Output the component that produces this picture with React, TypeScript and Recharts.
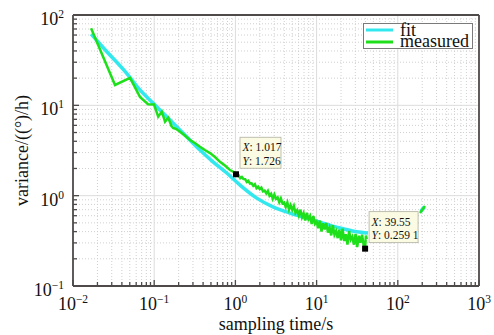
import React from 'react';
import {
  ComposedChart,
  Line,
  XAxis,
  YAxis,
  ReferenceLine,
  ReferenceDot,
  Legend,
} from 'recharts';

// ---------- data ----------
const fitX = [0.0167, 0.025, 0.0458, 0.0668, 0.0966, 0.1565, 0.251, 0.366, 0.53, 0.782, 1.14, 1.83, 2.9, 4.7, 7.55, 12.0, 19.4, 31.2, 43];
const fitY = [61.6, 41.0, 22.6, 14.8, 10.6, 6.88, 4.49, 3.2, 2.37, 1.78, 1.31, 0.94, 0.753, 0.642, 0.565, 0.497, 0.438, 0.398, 0.385];

const measuredX = [
  0.0167, 0.0329, 0.0504, 0.0668, 0.0839, 0.0995, 0.112, 0.124, 0.136, 0.149, 0.163, 0.172, 0.185, 0.208, 0.24, 0.276, 0.32, 0.366, 0.42, 0.487, 0.56, 0.646, 0.75, 0.858,
  1.0, 1.047, 1.096, 1.148, 1.202, 1.259, 1.318, 1.38, 1.445, 1.514, 1.585, 1.66, 1.738, 1.82, 1.905, 1.995,
  2.089, 2.188, 2.291, 2.399, 2.512, 2.63, 2.754, 2.884, 3.02, 3.162, 3.311, 3.467, 3.631, 3.802, 3.981,
  4.169, 4.365, 4.571, 4.786, 5.012, 5.248, 5.495, 5.754, 6.026, 6.31, 6.607, 6.918, 7.244, 7.586, 7.943,
  8.318, 8.71, 9.12, 9.55, 10.0, 10.47, 10.96, 11.48, 12.02, 12.59, 13.18, 13.8, 14.45, 15.14, 15.85,
  16.6, 17.38, 18.2, 19.05, 19.95, 20.89, 21.88, 22.91, 23.99, 25.12, 26.3, 27.54, 28.84, 30.2, 31.62,
  33.11, 34.67, 36.31, 38.02, 39.55, 40.5, 41.5,
];
const measuredY = [
  71.2, 16.8, 20.1, 12.4, 10.3, 10.2, 7.5, 8.5, 6.6, 7.3, 5.9, 5.6, 5.5, 5.1, 4.6, 4.13, 3.8, 3.48, 3.2, 2.96, 2.68, 2.37, 2.14, 1.92,
  1.79, 1.67, 1.68, 1.565, 1.61, 1.53, 1.525, 1.42, 1.46, 1.36, 1.37, 1.285, 1.34, 1.21, 1.255, 1.18,
  1.225, 1.115, 1.135, 1.06, 1.13, 1.0, 1.05, 0.925, 1.03, 0.92, 0.955, 0.845, 0.93, 0.82, 0.84,
  0.75, 0.84, 0.7, 0.785, 0.695, 0.77, 0.645, 0.69, 0.605, 0.7, 0.577, 0.64, 0.53, 0.648, 0.55,
  0.595, 0.486, 0.594, 0.489, 0.517, 0.436, 0.53, 0.4, 0.495, 0.423, 0.5, 0.39, 0.444, 0.363, 0.47,
  0.37, 0.407, 0.339, 0.42, 0.32, 0.43, 0.315, 0.374, 0.287, 0.406, 0.326, 0.352, 0.287, 0.377, 0.27,
  0.36, 0.302, 0.37, 0.28, 0.2591, 0.362, 0.33,
];

const fitTailX = [192, 212];
const fitTailY = [0.67, 0.75];
const measuredTailX = [187.6, 216];
const measuredTailY = [0.642, 0.767];

const xMajorTicks = [0.01, 0.1, 1, 10, 100, 1000];
const xMinorTicks = [
  0.02, 0.03, 0.04, 0.05, 0.06, 0.07, 0.08, 0.09,
  0.2, 0.3, 0.4, 0.5, 0.6, 0.7, 0.8, 0.9,
  2, 3, 4, 5, 6, 7, 8, 9,
  20, 30, 40, 50, 60, 70, 80, 90,
  200, 300, 400, 500, 600, 700, 800, 900,
];
const yMajorTicks = [0.1, 1, 10, 100];
const yMinorTicks = [
  0.2, 0.3, 0.4, 0.5, 0.6, 0.7, 0.8, 0.9,
  2, 3, 4, 5, 6, 7, 8, 9,
  20, 30, 40, 50, 60, 70, 80, 90,
];

const tipX = [1.017, 39.55];
const tipY = [1.726, 0.2591];
const tipYLabels = ['1.726', '0.259 1'];
const tipXLabels = ['1.017', '39.55'];

// ---------- styles ----------
const FONT = '"Liberation Serif", "Times New Roman", serif';
const AXIS = '#4f4a4a';
const CYAN = '#30e8ee';
const GREEN = '#1ee01a';

const fitData = fitX.map((x, i) => ({ x, y: fitY[i] }));
const measuredData = measuredX.map((x, i) => ({ x, y: measuredY[i] }));
const fitTail = fitTailX.map((x, i) => ({ x, y: fitTailY[i] }));
const measuredTail = measuredTailX.map((x, i) => ({ x, y: measuredTailY[i] }));
const xTicks = [...xMajorTicks, ...xMinorTicks].sort((a, b) => a - b);
const yTicks = [...yMajorTicks, ...yMinorTicks].sort((a, b) => a - b);

const expLabel = (v: number) => {
  const e = Math.round(Math.log10(v));
  return e < 0 ? `\u2212${-e}` : `${e}`;
};

const XTick = (props: any) => {
  const { x, y, payload } = props;
  const v = payload.value;
  const major = xMajorTicks.includes(v);
  return (
    <g>
      <line x1={x} x2={x} y1={y} y2={y - (major ? 6 : 4)} stroke={AXIS} strokeWidth={1.3} />
      {major && (
        <text x={x} y={y + 24} textAnchor="middle" fontFamily={FONT} fontSize={18} fill="#111">
          <tspan>10</tspan>
          <tspan dy={-7} fontSize={11.5}>{expLabel(v)}</tspan>
        </text>
      )}
    </g>
  );
};

const YTick = (props: any) => {
  const { x, y, payload } = props;
  const v = payload.value;
  const major = yMajorTicks.includes(v);
  return (
    <g>
      <line x1={x} x2={x + (major ? 6 : 4)} y1={y} y2={y} stroke={AXIS} strokeWidth={1.3} />
      {major && (
        <text x={x - 9} y={y + 10} textAnchor="end" fontFamily={FONT} fontSize={18} fill="#111">
          <tspan>10</tspan>
          <tspan dy={-7} fontSize={11.5}>{expLabel(v)}</tspan>
        </text>
      )}
    </g>
  );
};

const XTitle = (props: any) => {
  const vb = props.viewBox || { x: 73, y: 286, width: 406, height: 49 };
  return (
    <text x={vb.x + vb.width / 2} y={vb.y + 43.5} textAnchor="middle" fontFamily={FONT} fontSize={18} fill="#111">
      sampling time/s
    </text>
  );
};

const YTitle = (props: any) => {
  const vb = props.viewBox || { x: 0, y: 15, width: 73, height: 271 };
  const cx = vb.x + 28;
  const cy = vb.y + vb.height / 2;
  return (
    <text x={cx} y={cy} transform={`rotate(-90 ${cx} ${cy})`} textAnchor="middle" fontFamily={FONT} fontSize={18} fill="#111">
      variance/((°)/h)
    </text>
  );
};

const LegendBox = (props: any) => {
  const payload = (props.payload || []).filter((p: any) => p.type !== 'none');
  const items = payload.length
    ? payload.map((p: any) => ({ name: p.value, color: p.color }))
    : [
        { name: 'fit', color: CYAN },
        { name: 'measured', color: GREEN },
      ];
  return (
    <svg width={110} height={26} style={{ display: 'block', overflow: 'visible' }}>
      <rect x={0.5} y={0.5} width={109} height={25} fill="#fff" stroke="#7a7a7a" strokeWidth={1} />
      {items.map((it: any, i: number) => (
        <g key={it.name}>
          <line x1={3} x2={30} y1={7 + i * 12} y2={7 + i * 12} stroke={it.color} strokeWidth={3} />
          <text x={37} y={12.5 + i * 11} fontFamily={FONT} fontSize={18} fill="#111">
            {it.name}
          </text>
        </g>
      ))}
    </svg>
  );
};

const makeTip = (i: number) => (props: any) => {
  const { cx, cy } = props;
  const xl = tipXLabels[i];
  const yl = tipYLabels[i];
  const w = i === 0 ? 41 : 49;
  return (
    <g>
      <rect x={cx + 4} y={cy - 37} width={w} height={31} fill="#fbfbe3" stroke="#b0b0a0" strokeWidth={0.8} />
      <text x={cx + 6.5} y={cy - 23} fontFamily={FONT} fontSize={11.5} fill="#111">
        <tspan fontStyle="italic">X</tspan>
        <tspan>: {xl}</tspan>
      </text>
      <text x={cx + 6.5} y={cy - 9.5} fontFamily={FONT} fontSize={11.5} fill="#111">
        <tspan fontStyle="italic">Y</tspan>
        <tspan>: {yl}</tspan>
      </text>
      <rect x={cx - 3} y={cy - 3} width={6} height={6} fill="#000" />
    </g>
  );
};

export default function App() {
  return (
    <div style={{ position: 'absolute', left: 0, top: 0, width: 494, height: 335, background: '#fff' }}>
      <ComposedChart width={494} height={335} margin={{ top: 15, right: 15, bottom: 0, left: 0 }}>
        <XAxis
          dataKey="x"
          type="number"
          scale="log"
          domain={[0.01, 1000]}
          allowDataOverflow
          ticks={xTicks}
          interval={0}
          tickSize={0}
          tickMargin={0}
          tick={<XTick />}
          tickLine={false}
          height={49}
          stroke={AXIS}
          strokeWidth={1.8}
          label={<XTitle />}
        />
        <YAxis
          dataKey="y"
          type="number"
          scale="log"
          domain={[0.1, 100]}
          allowDataOverflow
          ticks={yTicks}
          interval={0}
          tickSize={0}
          tickMargin={0}
          tick={<YTick />}
          tickLine={false}
          width={73}
          stroke={AXIS}
          strokeWidth={1.8}
          label={<YTitle />}
        />
        {xMinorTicks.map((v) => (
          <ReferenceLine key={`xm${v}`} x={v} stroke="#d0d0d0" strokeDasharray="1 2" strokeWidth={1} zIndex={-100} />
        ))}
        {yMinorTicks.map((v) => (
          <ReferenceLine key={`ym${v}`} y={v} stroke="#d0d0d0" strokeDasharray="1 2" strokeWidth={1} zIndex={-100} />
        ))}
        {xMajorTicks.slice(1, -1).map((v) => (
          <ReferenceLine key={`xM${v}`} x={v} stroke="#dcdcdc" strokeWidth={1} zIndex={-100} />
        ))}
        {yMajorTicks.slice(1, -1).map((v) => (
          <ReferenceLine key={`yM${v}`} y={v} stroke="#dcdcdc" strokeWidth={1} zIndex={-100} />
        ))}
        <Line data={fitData} dataKey="y" name="fit" type="monotone" stroke={CYAN} strokeWidth={3.5} dot={false} isAnimationActive={false} />
        <Line data={fitTail} dataKey="y" name="fitTail" legendType="none" type="linear" stroke={CYAN} strokeWidth={3.5} dot={false} isAnimationActive={false} />
        <Line data={measuredData} dataKey="y" name="measured" type="linear" stroke={GREEN} strokeWidth={2.5} dot={false} isAnimationActive={false} />
        <Line data={measuredTail} dataKey="y" name="measuredTail" legendType="none" type="linear" stroke={GREEN} strokeWidth={2.5} dot={false} isAnimationActive={false} />
        <ReferenceLine y={100} stroke={AXIS} strokeWidth={1.8} zIndex={600} />
        <ReferenceLine x={1000} stroke={AXIS} strokeWidth={1.8} zIndex={600} />
        {tipX.map((x, i) => (
          <ReferenceDot key={`tip${i}`} x={x} y={tipY[i]} r={3} shape={makeTip(i)} zIndex={2000} />
        ))}
        <Legend
          layout="horizontal"
          verticalAlign="middle"
          align="center"
          content={<LegendBox />}
          wrapperStyle={{ position: 'absolute', left: 363, top: 22.5, width: 110, height: 26 }}
        />
      </ComposedChart>
    </div>
  );
}
